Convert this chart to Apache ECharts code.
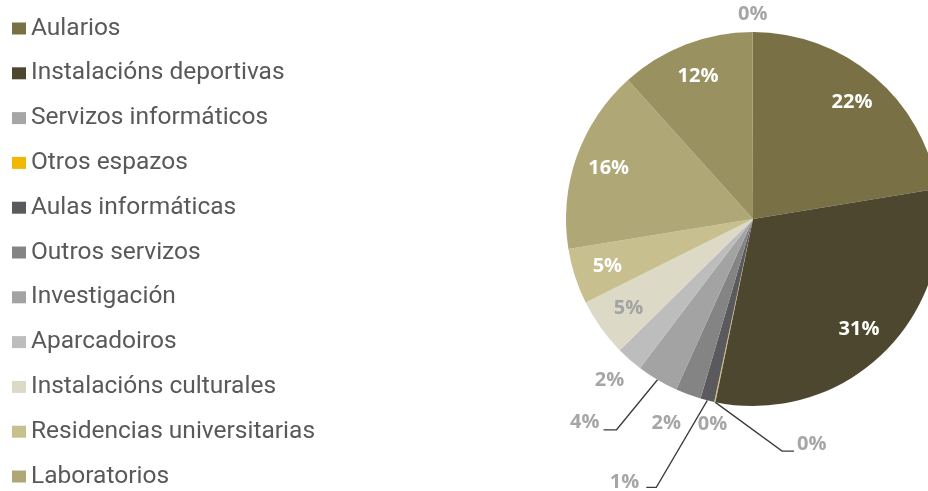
<!DOCTYPE html>
<html lang="gl">
<head>
    <meta charset="UTF-8">
    <title>Espazos</title>
    <style>
        *{
            margin:0;
            padding:0;
            box-sizing:border-box;
        }
        html, body{
            height:100%;
            width:100%;
            background:#fff;
        }
        #myChart{
            height:491px;
            width:928px;
        }
    </style>
</head>
<body>
<div id="myChart"></div>
<script src="https://cdn.jsdelivr.net/npm/echarts@6/dist/echarts.min.js"></script>
<script>
    // categorias en orde horario dende as 12 (as dúas últimas non se ven na lenda recortada)
    var categories = ['Aularios', 'Instalacións deportivas', 'Servizos informáticos', 'Otros espazos',
        'Aulas informáticas', 'Outros servizos', 'Investigación', 'Aparcadoiros',
        'Instalacións culturales', 'Residencias universitarias', 'Laboratorios',
        'Categoría 12', 'Categoría 13'];
    var values = [22.4, 30.8, 0.05, 0.05, 1.2, 2.2, 3.6, 2.3, 5.0, 4.8, 15.9, 11.6, 0.05];
    var legendNames = categories.slice(0, 11);

    var colors = ['#7a7046', '#4e4730', '#a6a6a6', '#f2b800', '#5a5a5e', '#848484', '#a3a3a3',
        '#bdbdbd', '#dcdac6', '#c8bf8e', '#b0a776', '#9a9160', '#8c8c5a'];

    // etiquetas dentro (cor) ou fóra con desprazamentos dende o bordo da porción
    var insideLabel = {0: '#fff', 1: '#fff', 8: '#a3a3a3', 9: '#fff', 10: '#fff', 11: '#fff'};
    var outsideLabel = {
        2: {label: [82, 42], align: 'left', line: [[67, 49], [79, 49]]},
        3: {label: [-2, 22], align: 'center'},
        4: {label: [-68, 82], align: 'right', line: [[-51, 87], [-61, 87]]},
        5: {label: [-22, 29], align: 'center'},
        6: {label: [-58, 43], align: 'right', line: [[-41, 50], [-54, 50]]},
        7: {label: [-20, 21], align: 'center'},
        12: {label: [0, -18], align: 'center'}
    };

    var pieData = categories.map(function(name, i) {
        return {name: name, value: values[i], itemStyle: {color: colors[i]}};
    });

    var labelData = categories.map(function(name, i) {
        var item = {name: name, value: values[i]};
        if (insideLabel[i]) {
            item.label = {position: 'inside', color: insideLabel[i]};
        } else {
            item.label = {position: 'outside', color: '#a6a6a6'};
            item.labelLine = {
                show: true,
                length: 10,
                length2: 5,
                lineStyle: {color: '#3a3a3a', width: 1.3, opacity: outsideLabel[i].line ? 1 : 0}
            };
        }
        return item;
    });

    var myChart = echarts.init(document.getElementById('myChart'));
    var option = {
        animation:false,
        legend:{
            orient:'vertical',
            left:12,
            top:16,
            height:600,
            padding:0,
            itemWidth:14,
            itemHeight:12,
            itemGap:19.8,
            icon:'rect',
            data:legendNames,
            selectedMode:false,
            textStyle:{
                fontFamily:'Roboto',
                fontSize:24.5,
                lineHeight:25,
                color:'#595959'
            }
        },
        series:[
            {
                name:'espazos',
                type:'pie',
                center:[753, 219],
                radius:[0, 187],
                startAngle:90,
                clockwise:true,
                silent:true,
                label:{show:false},
                labelLine:{show:false},
                itemStyle:{borderWidth:0},
                data:pieData
            },
            {
                // anel transparente só para colocar as etiquetas
                name:'etiquetas',
                type:'pie',
                center:[753, 219],
                radius:[113, 187],
                startAngle:90,
                clockwise:true,
                silent:true,
                avoidLabelOverlap:false,
                itemStyle:{color:'rgba(0,0,0,0)', borderWidth:0},
                label:{
                    show:true,
                    fontFamily:'Open Sans',
                    fontWeight:'bold',
                    fontSize:20,
                    formatter:function(p) {
                        return Math.round(p.value) + '%';
                    }
                },
                labelLayout:function(p) {
                    var o = outsideLabel[p.dataIndex];
                    if (p.seriesIndex !== 1 || !o || !p.labelLinePoints) return {};
                    var a = p.labelLinePoints[0];
                    var res = {
                        x: a[0] + o.label[0],
                        y: a[1] + o.label[1],
                        align: o.align,
                        verticalAlign: 'middle'
                    };
                    if (o.line) {
                        res.labelLinePoints = [
                            [a[0], a[1]],
                            [a[0] + o.line[0][0], a[1] + o.line[0][1]],
                            [a[0] + o.line[1][0], a[1] + o.line[1][1]]
                        ];
                    }
                    return res;
                },
                data:labelData
            }
        ]
    };
    myChart.setOption(option);
</script>
</body>
</html>
